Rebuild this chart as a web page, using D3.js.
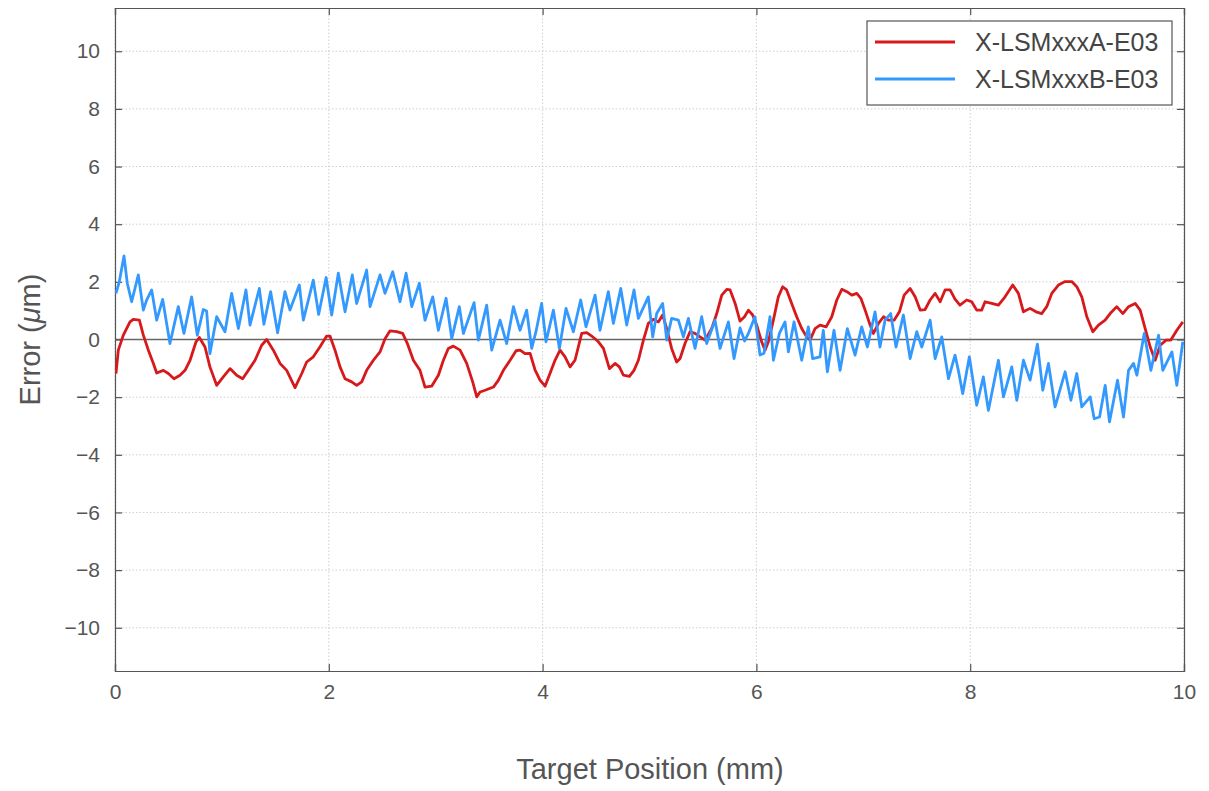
<!DOCTYPE html>
<html><head><meta charset="utf-8">
<script src="https://cdn.jsdelivr.net/npm/d3@7"></script>
<style>body{margin:0;background:#fff;} text{font-family:"Liberation Sans",Arial,sans-serif;}</style>
</head><body>
<svg id="chart" width="1209" height="791"></svg>
<script>
const seriesNames = ["X-LSMxxxA-E03", "X-LSMxxxB-E03"];
const seriesColors = ["#d7191c", "#3399ff"];
const xTicks = [0, 2, 4, 6, 8, 10];
const yTicks = [-10, -8, -6, -4, -2, 0, 2, 4, 6, 8, 10];
const xTitle = "Target Position (mm)";

// Series A (red): [position mm, error µm]
const seriesA = [
[0.009,-1.18],[0.031,-0.37],[0.078,0.15],[0.140,0.61],[0.171,0.70],[0.228,0.67],[0.265,0.15],[0.312,-0.37],[0.359,-0.83],[0.390,-1.16],
[0.452,-1.07],[0.499,-1.18],[0.552,-1.36],[0.608,-1.24],[0.655,-1.07],[0.702,-0.72],[0.758,-0.08],[0.789,0.07],[0.842,-0.26],[0.888,-0.95],
[0.951,-1.59],[1.013,-1.30],[1.076,-1.01],[1.138,-1.24],[1.194,-1.36],[1.247,-1.07],[1.310,-0.72],[1.372,-0.20],[1.419,0.0],[1.481,-0.37],
[1.544,-0.83],[1.606,-1.07],[1.684,-1.67],[1.747,-1.18],[1.793,-0.78],[1.855,-0.60],[1.918,-0.25],[1.980,0.12],[2.011,0.12],[2.058,-0.37],
[2.105,-0.95],[2.152,-1.36],[2.214,-1.47],[2.261,-1.59],[2.308,-1.47],[2.354,-1.07],[2.417,-0.72],[2.479,-0.43],[2.526,0.03],[2.573,0.30],
[2.635,0.27],[2.691,0.21],[2.735,-0.14],[2.791,-0.72],[2.853,-1.07],[2.900,-1.65],[2.962,-1.62],[3.025,-1.24],[3.072,-0.72],[3.118,-0.31],
[3.165,-0.23],[3.228,-0.37],[3.290,-0.83],[3.346,-1.47],[3.384,-1.99],[3.415,-1.82],[3.462,-1.76],[3.540,-1.65],[3.587,-1.41],[3.633,-1.07],
[3.696,-0.72],[3.752,-0.39],[3.789,-0.37],[3.836,-0.49],[3.883,-0.48],[3.929,-1.05],[3.976,-1.41],[4.023,-1.62],[4.069,-1.18],[4.116,-0.72],
[4.163,-0.37],[4.210,-0.60],[4.257,-0.95],[4.303,-0.72],[4.366,0.21],[4.413,0.24],[4.459,0.12],[4.522,-0.08],[4.569,-0.31],[4.625,-1.01],
[4.678,-0.83],[4.718,-0.95],[4.756,-1.24],[4.812,-1.28],[4.855,-1.07],[4.896,-0.72],[4.943,-0.02],[4.989,0.56],[5.036,0.70],[5.083,0.61],
[5.123,0.85],[5.161,0.38],[5.207,-0.31],[5.254,-0.78],[5.286,-0.66],[5.332,-0.14],[5.379,0.27],[5.426,0.21],[5.473,0.09],[5.520,-0.02],
[5.582,0.38],[5.629,0.90],[5.676,1.54],[5.723,1.74],[5.754,1.72],[5.801,1.25],[5.847,0.64],[5.889,0.79],[5.925,1.02],[5.965,0.85],
[6.003,0.50],[6.049,-0.08],[6.081,-0.37],[6.112,-0.08],[6.159,0.67],[6.205,1.48],[6.246,1.83],[6.283,1.72],[6.330,1.25],[6.377,0.79],
[6.424,0.38],[6.470,0.09],[6.502,-0.02],[6.549,0.38],[6.595,0.50],[6.652,0.44],[6.705,0.79],[6.752,1.37],[6.799,1.74],[6.846,1.66],
[6.893,1.54],[6.939,1.60],[6.977,1.43],[7.017,1.02],[7.064,0.50],[7.095,0.21],[7.142,0.56],[7.189,0.79],[7.235,0.67],[7.288,0.67],
[7.338,0.96],[7.382,1.54],[7.438,1.77],[7.485,1.48],[7.532,1.02],[7.578,1.04],[7.625,1.37],[7.672,1.60],[7.719,1.31],[7.765,1.72],
[7.812,1.72],[7.858,1.40],[7.904,1.19],[7.967,1.37],[8.014,1.31],[8.061,1.02],[8.107,1.02],[8.139,1.31],[8.201,1.25],[8.264,1.19],
[8.326,1.48],[8.398,1.89],[8.451,1.60],[8.498,0.96],[8.560,1.08],[8.616,0.96],[8.669,0.90],[8.716,1.14],[8.763,1.60],[8.825,1.89],
[8.888,2.01],[8.950,2.01],[8.997,1.83],[9.044,1.48],[9.091,0.79],[9.147,0.27],[9.200,0.50],[9.262,0.67],[9.309,0.90],[9.371,1.14],
[9.428,0.90],[9.481,1.14],[9.543,1.25],[9.590,1.02],[9.637,0.38],[9.684,-0.26],[9.730,-0.72],[9.777,-0.20],[9.833,-0.02],[9.877,-0.02],
[9.933,0.32],[9.989,0.61]
];

// Series B (blue): [position mm, error µm]
const seriesB = [
[0.009,1.6],[0.040,2.0],[0.084,2.9],[0.115,1.95],[0.156,1.31],[0.218,2.24],[0.265,1.02],[0.296,1.37],[0.343,1.72],[0.390,0.67],
[0.446,1.39],[0.514,-0.14],[0.592,1.14],[0.645,0.21],[0.717,1.48],[0.770,0.15],[0.826,1.04],[0.857,0.99],[0.888,-0.49],[0.951,0.79],
[1.029,0.27],[1.091,1.6],[1.154,0.38],[1.225,1.72],[1.263,0.5],[1.350,1.77],[1.393,0.53],[1.456,1.66],[1.521,0.23],[1.590,1.66],
[1.637,1.02],[1.724,1.89],[1.762,0.67],[1.855,2.06],[1.905,0.87],[1.975,2.15],[2.027,0.85],[2.089,2.3],[2.152,0.96],[2.220,2.24],
[2.261,1.25],[2.354,2.41],[2.386,1.14],[2.479,2.24],[2.526,1.6],[2.598,2.35],[2.666,1.31],[2.723,2.30],[2.776,1.14],[2.847,1.95],
[2.900,0.67],[2.972,1.48],[3.025,0.32],[3.097,1.43],[3.150,0.03],[3.221,1.14],[3.259,0.21],[3.359,1.28],[3.399,-0.02],[3.477,1.19],
[3.524,-0.37],[3.602,0.67],[3.664,-0.14],[3.727,1.14],[3.789,0.32],[3.851,1.02],[3.898,-0.31],[3.938,0.27],[3.991,1.25],[4.032,-0.08],
[4.101,1.02],[4.157,-0.31],[4.219,1.08],[4.288,0.27],[4.356,1.37],[4.406,0.44],[4.491,1.54],[4.537,0.32],[4.615,1.66],[4.662,0.56],
[4.731,1.77],[4.787,0.50],[4.855,1.72],[4.896,0.73],[4.989,1.48],[5.030,0.09],[5.067,0.9],[5.123,1.25],[5.161,-0.02],[5.207,0.73],
[5.270,0.67],[5.317,0.09],[5.364,0.73],[5.426,-0.31],[5.488,0.79],[5.535,-0.14],[5.613,0.67],[5.660,-0.31],[5.738,0.61],[5.791,-0.66],
[5.847,0.4],[5.890,-0.05],[5.925,0.21],[5.986,0.79],[6.034,-0.54],[6.071,-0.48],[6.127,0.79],[6.159,-0.72],[6.215,0.21],[6.268,0.61],
[6.299,-0.43],[6.352,0.61],[6.424,-0.72],[6.486,0.44],[6.526,-0.66],[6.595,-0.60],[6.626,0.32],[6.664,-1.12],[6.726,0.32],[6.783,-1.07],
[6.851,0.38],[6.923,-0.54],[6.985,0.44],[7.038,-0.26],[7.110,0.96],[7.156,-0.26],[7.203,0.67],[7.256,0.90],[7.306,-0.26],[7.375,0.85],
[7.438,-0.66],[7.500,0.27],[7.547,-0.26],[7.625,0.67],[7.672,-0.66],[7.734,0.09],[7.797,-1.36],[7.858,-0.54],[7.889,-1.07],[7.930,-1.88],
[7.992,-0.60],[8.061,-2.28],[8.123,-1.30],[8.170,-2.46],[8.264,-0.72],[8.311,-1.99],[8.389,-0.95],[8.436,-2.11],[8.498,-0.72],[8.560,-1.41],
[8.629,-0.16],[8.679,-1.76],[8.732,-0.83],[8.794,-2.34],[8.888,-1.12],[8.942,-2.11],[8.997,-1.18],[9.044,-2.34],[9.122,-1.99],[9.160,-2.75],
[9.210,-2.69],[9.263,-1.59],[9.303,-2.86],[9.378,-1.41],[9.434,-2.69],[9.481,-1.07],[9.528,-0.83],[9.559,-1.24],[9.628,0.21],[9.690,-1.07],
[9.762,0.15],[9.802,-1.07],[9.887,-0.43],[9.933,-1.59],[9.989,-0.08]
];

const svg = d3.select("#chart");
const L = 115, T = 8, R = 1184, B = 671;
const x = d3.scaleLinear().domain([0, 10]).range([L, R]);
const y = d3.scaleLinear().domain([-11.5, 11.5]).range([B, T]);
const textColor = "#555";
const axisColor = "#555";

// grid
const grid = svg.append("g");
grid.selectAll("line.gx").data(xTicks).join("line")
  .attr("x1", d => x(d)).attr("x2", d => x(d)).attr("y1", T).attr("y2", B)
  .attr("stroke", "#cfcfcf").attr("stroke-width", 1).attr("stroke-dasharray", "1.5,2");
grid.selectAll("line.gy").data(yTicks).join("line")
  .attr("x1", L).attr("x2", R).attr("y1", d => y(d)).attr("y2", d => y(d))
  .attr("stroke", "#cfcfcf").attr("stroke-width", 1).attr("stroke-dasharray", "1.5,2");

// zero line
svg.append("line").attr("x1", L).attr("x2", R).attr("y1", y(0)).attr("y2", y(0))
  .attr("stroke", "#666").attr("stroke-width", 1.3);

// axes with inner ticks
const fmt = d3.format("d");
const ax = svg.append("g").attr("transform", `translate(0,${B})`)
  .call(d3.axisBottom(x).tickValues(xTicks).tickSize(-7).tickPadding(13).tickFormat(fmt));
const axTop = svg.append("g").attr("transform", `translate(0,${T})`)
  .call(d3.axisTop(x).tickValues(xTicks).tickSize(-7).tickFormat(""));
const ay = svg.append("g").attr("transform", `translate(${L},0)`)
  .call(d3.axisLeft(y).tickValues(yTicks).tickSize(-7).tickPadding(15).tickFormat(fmt));
const ayR = svg.append("g").attr("transform", `translate(${R},0)`)
  .call(d3.axisRight(y).tickValues(yTicks).tickSize(-7).tickFormat(""));
[ax, axTop, ay, ayR].forEach(g => {
  g.select(".domain").attr("stroke", axisColor).attr("stroke-width", 1.2);
  g.selectAll(".tick line").attr("stroke", axisColor).attr("stroke-width", 1.2);
  g.selectAll(".tick text").attr("fill", textColor).style("font-size", "21px")
    .style("font-family", "'Liberation Sans', Arial, sans-serif");
});

// lines
const line = d3.line().x(d => x(d[0])).y(d => y(d[1]));
const clip = svg.append("clipPath").attr("id", "clip").append("rect")
  .attr("x", L).attr("y", T).attr("width", R - L).attr("height", B - T);
const dataSets = [seriesA, seriesB];
svg.append("g").attr("clip-path", "url(#clip)").selectAll("path.series").data(dataSets).join("path")
  .attr("d", line).attr("fill", "none")
  .attr("stroke", (d, i) => seriesColors[i]).attr("stroke-width", 2.8)
  .attr("stroke-linejoin", "round");

// axis titles
svg.append("text").attr("x", 650).attr("y", 779).attr("text-anchor", "middle")
  .attr("fill", textColor).style("font-size", "29px").text(xTitle);
const yt = svg.append("text").attr("transform", `translate(40,${y(0)}) rotate(-90)`)
  .attr("text-anchor", "middle").attr("fill", textColor).style("font-size", "29px");
yt.append("tspan").text("Error (");
yt.append("tspan").style("font-style", "italic").text("\u03BC");
yt.append("tspan").text("m)");

// legend
const lg = svg.append("g");
lg.append("rect").attr("x", 867).attr("y", 21).attr("width", 305).attr("height", 84)
  .attr("fill", "#fff").attr("stroke", "#555").attr("stroke-width", 1.2);
const legendRows = lg.selectAll("g.row").data(seriesNames).join("g")
  .attr("transform", (d, i) => `translate(0,${42 + i * 37})`);
legendRows.append("line").attr("x1", 875).attr("x2", 955).attr("y1", 0).attr("y2", 0)
  .attr("stroke", (d, i) => seriesColors[i]).attr("stroke-width", 2.8);
legendRows.append("text").attr("x", 975).attr("y", 9).attr("fill", "#444")
  .style("font-size", "25px").text(d => d);
</script>
</body></html>
